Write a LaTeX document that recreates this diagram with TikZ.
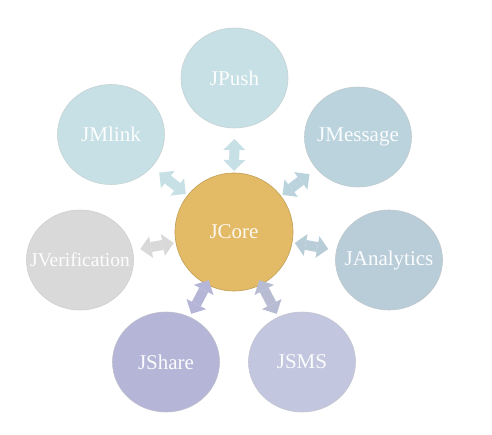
\documentclass[tikz,border=0pt]{standalone}
\usepackage{fontspec}
\setmainfont{Liberation Serif}
\usetikzlibrary{shapes.geometric,arrows.meta,calc}
\definecolor{coreC}{HTML}{E3BA65}
\definecolor{pushC}{HTML}{C7E0E5}
\definecolor{mlinkC}{HTML}{C7E0E5}
\definecolor{msgC}{HTML}{BAD3DD}
\definecolor{anaC}{HTML}{B9CDD9}
\definecolor{verC}{HTML}{D9D9D9}
\definecolor{shareC}{HTML}{B5B5D7}
\definecolor{smsC}{HTML}{C2C6DE}
\newcommand{\bubtext}[1]{\makebox[0pt]{#1}}
\tikzset{
  bubble/.style={ellipse, minimum width=107pt, minimum height=100pt, inner sep=0pt,
    fill=#1, draw=#1!80!black!60, line width=0.6pt, text=white!94!#1,
    font=\fontsize{21}{24}\selectfont},
  corebubble/.style={circle, minimum size=118pt, inner sep=0pt,
    fill=coreC, draw=coreC!85!black, line width=0.6pt, text=white!90!coreC,
    font=\fontsize{21}{24}\selectfont},
  fat/.style={draw=#1, line width=10pt, line cap=butt,
    {Triangle[width=22pt,length=11pt,line width=0pt]}-{Triangle[width=22pt,length=11pt,line width=0pt]}}
}
\begin{document}
\begin{tikzpicture}[x=1pt,y=-1pt]
\fill[white] (0,0) rectangle (492,434);
\useasboundingbox (0,0) rectangle (492,434);
\node[corebubble] (core) at (234,232) {\bubtext{JCore}};
\node[bubble=pushC] (push) at (234.5,78) {\bubtext{JPush}};
\node[bubble=msgC] (msg) at (358,137) {\bubtext{JMessage}};
\node[bubble=anaC] (ana) at (389,260) {\bubtext{JAnalytics}};
\node[bubble=smsC] (sms) at (302,362) {\bubtext{JSMS}};
\node[bubble=shareC] (share) at (166,362) {\bubtext{JShare}};
\node[bubble=verC, font=\fontsize{19.5}{22}\selectfont] (ver) at (80,260) {\bubtext{JVerification}};
\node[bubble=mlinkC] (mlink) at (111,134.5) {\bubtext{JMlink}};
\draw[fat=pushC] ($(core)!0.5!(push)!16pt!(core)$) -- ($(core)!0.5!(push)!16pt!(push)$);
\draw[fat=msgC] ($(core)!0.5!(msg)!17pt!(core)$) -- ($(core)!0.5!(msg)!17pt!(msg)$);
\draw[fat=anaC] ($(core)!0.5!(ana)!17pt!(core)$) -- ($(core)!0.5!(ana)!17pt!(ana)$);
\draw[fat=smsC!95!black] ($(core)!0.5!(sms)!19pt!(core)$) -- ($(core)!0.5!(sms)!19pt!(sms)$);
\draw[fat=shareC] ($(core)!0.5!(share)!19pt!(core)$) -- ($(core)!0.5!(share)!19pt!(share)$);
\draw[fat=verC] ($(core)!0.5!(ver)!17pt!(core)$) -- ($(core)!0.5!(ver)!17pt!(ver)$);
\draw[fat=mlinkC] ($(core)!0.5!(mlink)!17pt!(core)$) -- ($(core)!0.5!(mlink)!17pt!(mlink)$);
\end{tikzpicture}
\end{document}
